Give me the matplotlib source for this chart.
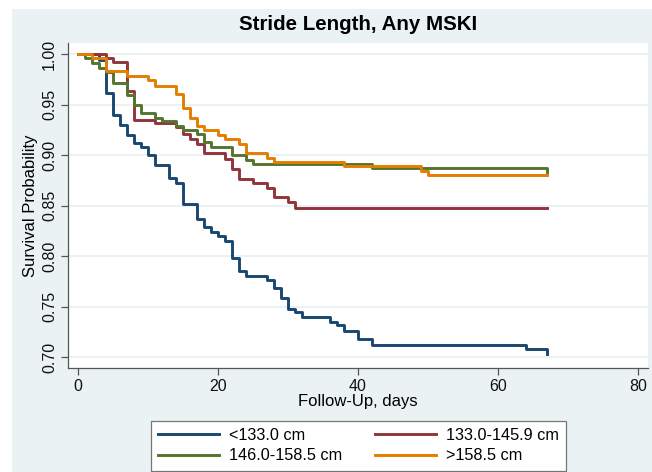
import matplotlib
matplotlib.use("Agg")
import matplotlib.pyplot as plt
from matplotlib.patches import Rectangle

plt.rcParams['font.family'] = ['Liberation Sans', 'DejaVu Sans']

#-- Kaplan-Meier step data (day of drop, survival after drop)
labels = ["<133.0 cm", "133.0-145.9 cm", "146.0-158.5 cm", ">158.5 cm"]
colors = ["#1A476F", "#90353B", "#55752F", "#E37E00"]

days_short = [0, 3, 4, 5, 6, 7, 8, 9, 10, 11, 13, 14, 15, 17, 18, 19, 20, 21, 22, 23, 24,
              27, 28, 29, 30, 31, 32, 36, 37, 38, 40, 42, 64, 67]
surv_short = [1.0, 0.994, 0.961, 0.940, 0.930, 0.920, 0.912, 0.908, 0.900, 0.890, 0.877,
              0.872, 0.851, 0.837, 0.829, 0.824, 0.820, 0.815, 0.798, 0.785, 0.780,
              0.776, 0.768, 0.758, 0.748, 0.745, 0.740, 0.735, 0.732, 0.726, 0.718,
              0.712, 0.708, 0.703]

days_mid_low = [0, 4, 5, 7, 8, 11, 14, 15, 16, 17, 18, 21, 22, 23, 25, 27, 28, 30, 31, 67]
surv_mid_low = [1.0, 0.996, 0.992, 0.963, 0.935, 0.932, 0.928, 0.921, 0.916, 0.911, 0.902,
                0.896, 0.886, 0.876, 0.872, 0.867, 0.858, 0.853, 0.848, 0.848]

days_mid_high = [0, 1, 2, 3, 4, 5, 7, 8, 9, 11, 12, 14, 15, 17, 18, 19, 22, 24, 25, 42, 67]
surv_mid_high = [1.0, 0.996, 0.991, 0.986, 0.9825, 0.971, 0.959, 0.9495, 0.942, 0.937,
                 0.934, 0.929, 0.925, 0.921, 0.913, 0.908, 0.900, 0.895, 0.891, 0.887, 0.883]

days_tall = [0, 2, 4, 7, 10, 11, 14, 15, 16, 17, 18, 20, 21, 23, 24, 27, 28, 38, 49, 50, 67]
surv_tall = [1.0, 0.996, 0.983, 0.978, 0.974, 0.968, 0.960, 0.947, 0.937, 0.929, 0.925,
             0.920, 0.916, 0.911, 0.902, 0.897, 0.893, 0.889, 0.8845, 0.880, 0.880]

series = [(days_short, surv_short), (days_mid_low, surv_mid_low),
          (days_mid_high, surv_mid_high), (days_tall, surv_tall)]

x_ticks = [0, 20, 40, 60, 80]
y_ticks = [0.70, 0.75, 0.80, 0.85, 0.90, 0.95, 1.00]

W, H = 652, 472
bg = "#EAF2F3"
fig = plt.figure(figsize=(W / 100, H / 100), dpi=100, facecolor="white")
fig.patches.append(Rectangle((12 / W, 0), 1, (H - 9) / H, transform=fig.transFigure,
                             facecolor=bg, edgecolor="none", zorder=-10))

ax = fig.add_axes([68 / W, (H - 368) / H, (648 - 68) / W, (368 - 43) / H])
ax.set_facecolor("white")

lines = []
for (d, s), c, lab in zip(series, colors, labels):
    ln, = ax.step(d, s, where="post", color=c, lw=2.1, label=lab, zorder=3)
    lines.append(ln)

ax.set_xlim(-10 / 7, 80 + 10 / 7)
ax.set_ylim(0.70 - 11 / 1010, 1.00 + 11 / 1010)
ax.set_xticks(x_ticks)
ax.set_yticks(y_ticks)
ax.set_yticklabels([f"{v:.2f}" for v in y_ticks], rotation=90, va="center")
ax.grid(axis="y", color=bg, lw=1.4, zorder=0)
ax.grid(axis="x", visible=False)
for side in ["top", "right"]:
    ax.spines[side].set_visible(False)
for side in ["left", "bottom"]:
    ax.spines[side].set_color("#555555")
    ax.spines[side].set_linewidth(0.9)
ax.tick_params(axis="both", direction="out", length=5, width=0.9, color="#555555",
               labelsize=11.5, labelcolor="#111111", pad=3)

ax.set_title("Stride Length, Any MSKI", fontsize=14.8, fontweight="bold", pad=9)
ax.set_xlabel("Follow-Up, days", fontsize=12, labelpad=0)
ax.set_ylabel("Survival Probability", fontsize=12, labelpad=3)

#-- matplotlib fills legend columns first, reorder to get Stata's row layout
order = [0, 2, 1, 3]
leg = fig.legend([lines[i] for i in order], [labels[i] for i in order], ncol=2,
                 loc="upper center", bbox_to_anchor=(358.5 / W, 51.3 / H),
                 fontsize=11.7, frameon=True, fancybox=False, edgecolor="#777777",
                 facecolor="white", framealpha=1, handlelength=3.75, handletextpad=0.6,
                 columnspacing=2.0, borderaxespad=0, borderpad=0.45, labelspacing=0.32)
leg.get_frame().set_linewidth(0.9)

fig.savefig("out.png", dpi=100, facecolor=fig.get_facecolor())
